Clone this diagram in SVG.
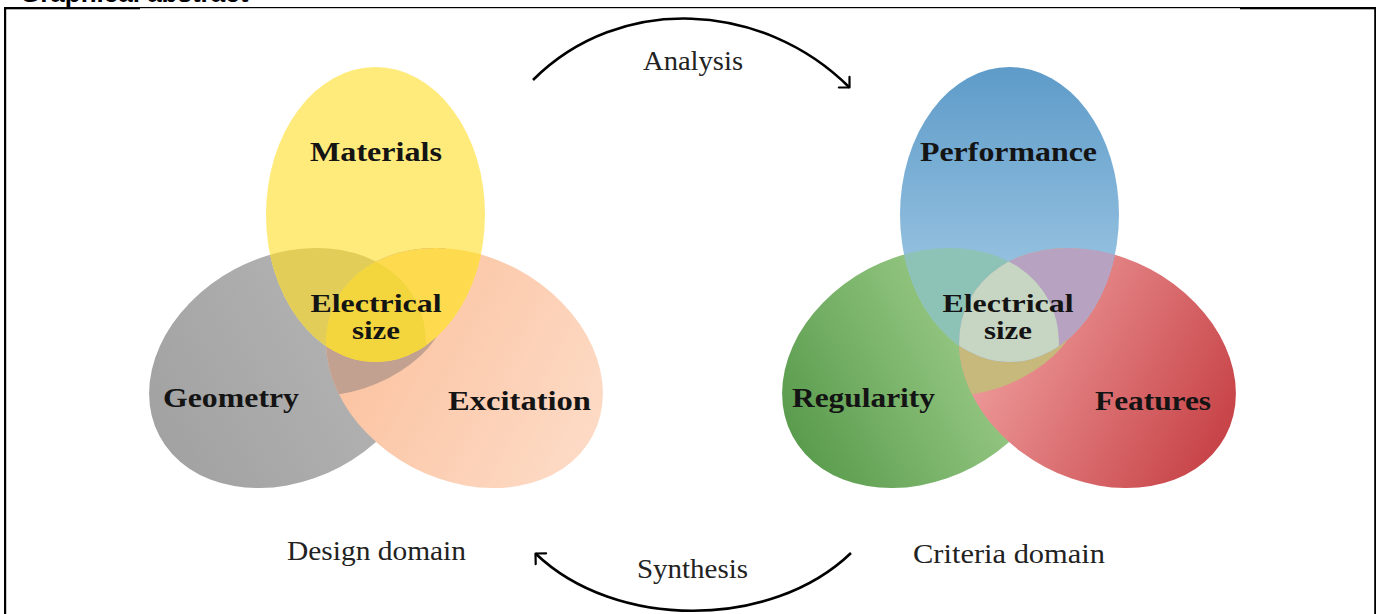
<svg xmlns="http://www.w3.org/2000/svg" width="1376" height="614" viewBox="0 0 1376 614">
  <style>
    .lbl { font-family: "Liberation Serif", "DejaVu Serif", serif; font-size: 27.5px; font-weight: bold; fill: #141414; text-anchor: middle; }
    .mid { font-size: 25.5px; }
    .cap { font-family: "Liberation Serif", "DejaVu Serif", serif; font-size: 27.5px; fill: #222222; text-anchor: middle; }
    .head { font-family: "Liberation Sans", Arial, sans-serif; font-size: 26px; font-weight: bold; fill: #000; }
    .arc { fill: none; stroke: #000; stroke-width: 2.6; }
    .frame { fill: #000; }
  </style>
  <defs>
    <linearGradient id="g-gray" x1="0" y1="0" x2="1" y2="0">
      <stop offset="0" stop-color="#a2a2a2"/>
      <stop offset="1" stop-color="#b7b7b7"/>
    </linearGradient>
    <linearGradient id="g-orange" x1="0" y1="0" x2="1" y2="0">
      <stop offset="0" stop-color="#fbc09c"/>
      <stop offset="1" stop-color="#fddac5"/>
    </linearGradient>
    <linearGradient id="g-green" x1="0" y1="0" x2="1" y2="0">
      <stop offset="0" stop-color="#5a9c4e"/>
      <stop offset="1" stop-color="#afda99"/>
    </linearGradient>
    <linearGradient id="g-red" x1="0" y1="0" x2="1" y2="0">
      <stop offset="0" stop-color="#f3a6a6"/>
      <stop offset="1" stop-color="#c74347"/>
    </linearGradient>
    <linearGradient id="g-blue" x1="0" y1="0" x2="0" y2="0.9">
      <stop offset="0" stop-color="#5e9bc9"/>
      <stop offset="1" stop-color="#a6cde7"/>
    </linearGradient>

    <clipPath id="c-geometry"><ellipse cx="287.5" cy="368" rx="145" ry="112" transform="rotate(-28 287.5 368)"/></clipPath>
    <clipPath id="c-excitation"><ellipse cx="464.5" cy="368" rx="145" ry="112" transform="rotate(28 464.5 368)"/></clipPath>
    <clipPath id="c-regularity"><ellipse cx="920.5" cy="368" rx="145" ry="112" transform="rotate(-28 920.5 368)"/></clipPath>
    <clipPath id="c-features"><ellipse cx="1097.5" cy="368" rx="145" ry="112" transform="rotate(28 1097.5 368)"/></clipPath>

    <marker id="arrow" markerUnits="userSpaceOnUse" markerWidth="20" markerHeight="20" viewBox="-12 -10 14 20" refX="0" refY="0" orient="auto">
      <path d="M -7.5 -7.5 L 0 0 L -7.5 7.5" fill="none" stroke="#000" stroke-width="2.2" stroke-linecap="round" stroke-linejoin="round"/>
    </marker>
  </defs>

  <rect width="1376" height="614" fill="#fff"/>

  <!-- heading, clipped by the top of the page -->
  <text class="head" x="20" y="1.5">Graphical abstract</text>

  <!-- frame -->
  <rect class="frame" x="4" y="7" width="1372" height="1.2"/>
  <rect class="frame" x="4" y="7" width="136" height="2.3"/>
  <rect class="frame" x="1240" y="7" width="136" height="2.3"/>
  <rect class="frame" x="4" y="7" width="2.2" height="607"/>
  <rect class="frame" x="1374.2" y="7" width="1.8" height="607"/>

  <!-- design domain -->
  <g id="geometry">
    <ellipse cx="287.5" cy="368" rx="145" ry="112" transform="rotate(-28 287.5 368)" fill="url(#g-gray)"/>
  </g>
  <g id="excitation">
    <ellipse cx="464.5" cy="368" rx="145" ry="112" transform="rotate(28 464.5 368)" fill="url(#g-orange)"/>
  </g>
  <g id="materials">
    <ellipse cx="375.5" cy="214.5" rx="109.5" ry="147.5" fill="#ffeb7b"/>
  </g>
  <g id="design-overlaps">
    <ellipse cx="464.5" cy="368" rx="145" ry="112" transform="rotate(28 464.5 368)" fill="#c2a190" clip-path="url(#c-geometry)"/>
    <ellipse cx="375.5" cy="214.5" rx="109.5" ry="147.5" fill="#e1cd57" clip-path="url(#c-geometry)"/>
    <ellipse cx="375.5" cy="214.5" rx="109.5" ry="147.5" fill="#fdda4e" clip-path="url(#c-excitation)"/>
    <g clip-path="url(#c-geometry)">
      <ellipse cx="375.5" cy="214.5" rx="109.5" ry="147.5" fill="#f3d53e" clip-path="url(#c-excitation)"/>
    </g>
  </g>
  <g id="design-labels">
    <text class="lbl" x="376" y="161" textLength="132" lengthAdjust="spacingAndGlyphs">Materials</text>
    <text class="lbl mid" x="376" y="312" textLength="131" lengthAdjust="spacingAndGlyphs">Electrical</text>
    <text class="lbl mid" x="376" y="338.5" textLength="48" lengthAdjust="spacingAndGlyphs">size</text>
    <text class="lbl" x="231" y="407" textLength="136" lengthAdjust="spacingAndGlyphs">Geometry</text>
    <text class="lbl" x="519.5" y="410" textLength="143" lengthAdjust="spacingAndGlyphs">Excitation</text>
  </g>

  <!-- criteria domain -->
  <g id="regularity">
    <ellipse cx="920.5" cy="368" rx="145" ry="112" transform="rotate(-28 920.5 368)" fill="url(#g-green)"/>
  </g>
  <g id="features">
    <ellipse cx="1097.5" cy="368" rx="145" ry="112" transform="rotate(28 1097.5 368)" fill="url(#g-red)"/>
  </g>
  <g id="performance">
    <ellipse cx="1009.5" cy="214.5" rx="109.5" ry="147.5" fill="url(#g-blue)"/>
  </g>
  <g id="criteria-overlaps">
    <ellipse cx="1097.5" cy="368" rx="145" ry="112" transform="rotate(28 1097.5 368)" fill="#c7b87c" clip-path="url(#c-regularity)"/>
    <ellipse cx="1009.5" cy="214.5" rx="109.5" ry="147.5" fill="#8dc2b6" clip-path="url(#c-regularity)"/>
    <ellipse cx="1009.5" cy="214.5" rx="109.5" ry="147.5" fill="#b7a2c1" clip-path="url(#c-features)"/>
    <g clip-path="url(#c-regularity)">
      <ellipse cx="1009.5" cy="214.5" rx="109.5" ry="147.5" fill="#c6d6c3" clip-path="url(#c-features)"/>
    </g>
  </g>
  <g id="criteria-labels">
    <text class="lbl" x="1008.5" y="161" textLength="177" lengthAdjust="spacingAndGlyphs">Performance</text>
    <text class="lbl mid" x="1008" y="312" textLength="131" lengthAdjust="spacingAndGlyphs">Electrical</text>
    <text class="lbl mid" x="1008" y="338.5" textLength="48" lengthAdjust="spacingAndGlyphs">size</text>
    <text class="lbl" x="863.5" y="407" textLength="143" lengthAdjust="spacingAndGlyphs">Regularity</text>
    <text class="lbl" x="1153" y="410" textLength="116" lengthAdjust="spacingAndGlyphs">Features</text>
  </g>

  <!-- domain captions -->
  <text class="cap" x="376.5" y="560" textLength="179" lengthAdjust="spacingAndGlyphs">Design domain</text>
  <text class="cap" x="1009" y="563" textLength="192" lengthAdjust="spacingAndGlyphs">Criteria domain</text>

  <!-- connectors -->
  <g id="connectors">
    <path class="arc" d="M 533 80 C 620 -7 763 1 849.5 87.5" marker-end="url(#arrow)"/>
    <text class="cap" x="693" y="70" textLength="100" lengthAdjust="spacingAndGlyphs">Analysis</text>
    <path class="arc" d="M 851 553 C 771 630 615 630 535.5 553.5" marker-end="url(#arrow)"/>
    <text class="cap" x="692.5" y="578" textLength="111" lengthAdjust="spacingAndGlyphs">Synthesis</text>
  </g>
</svg>
